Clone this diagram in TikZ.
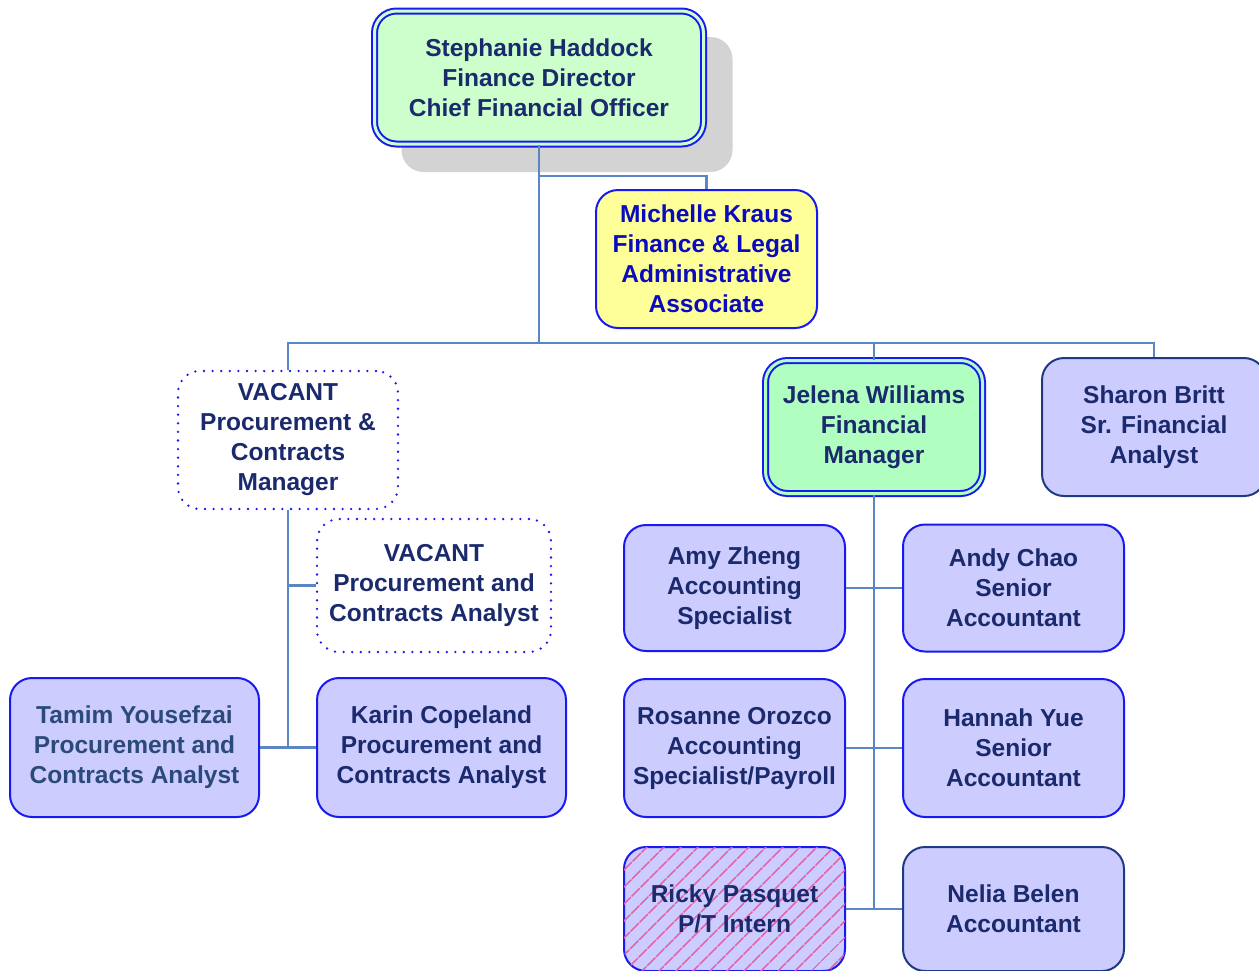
\documentclass[tikz,border=0pt]{standalone}
\usepackage{fontspec}
\setmainfont{Liberation Sans}
\usetikzlibrary{patterns.meta, backgrounds}

\definecolor{bordblue}{HTML}{1A1AF0}
\definecolor{bordnavy}{HTML}{1F3A80}
\definecolor{navytext}{HTML}{1A2A6C}
\definecolor{greytext}{HTML}{2B4A7A}
\definecolor{admtext}{HTML}{0A0AC0}
\definecolor{lav}{HTML}{CCCCFF}
\definecolor{ceogreen}{HTML}{CCFFCC}
\definecolor{fmgreen}{HTML}{B0FFC0}
\definecolor{admyellow}{HTML}{FFFF99}
\definecolor{linkblue}{HTML}{5A86C4}
\definecolor{shadowgray}{HTML}{D3D3D3}
\definecolor{hatchpink}{HTML}{E35FA8}

\tikzset{
  box/.style={rectangle, rounded corners=22pt, draw=bordblue, line width=2pt,
    fill=lav, text=navytext, align=center, inner sep=0pt,
    font=\bfseries\fontsize{24.5}{30}\selectfont},
  navybox/.style={box, draw=bordnavy},
  doublebox/.style={box, double distance=3pt},
  vacantbox/.style={box, fill=none, line width=2.6pt, line cap=round,
    dash pattern=on 0pt off 8.6pt},
  hatched/.style={postaction={pattern={Lines[angle=45, distance=13pt, line width=1.8pt]},
    pattern color=hatchpink}},
  link/.style={draw=linkblue, line width=2.3pt},
}

\begin{document}
\begin{tikzpicture}[x=1pt, y=-1pt]
\useasboundingbox (0,0) rectangle (1259,970);

% top level, with its drop shadow behind it
\node[doublebox, fill=ceogreen, double=ceogreen, minimum width=329pt, minimum height=133pt]
  (ceo) at (539,77.5) {Stephanie Haddock\\Finance Director\\Chief Financial Officer};
\begin{scope}[on background layer]
  \fill[shadowgray, rounded corners=22pt]
    ([shift={(28,27)}]ceo.north west) rectangle ([shift={(28,27)}]ceo.south east);
\end{scope}

\node[box, fill=admyellow, text=admtext, minimum width=221pt, minimum height=138pt]
  (adm) at (706.5,259) {Michelle Kraus\\Finance \& Legal\\Administrative\\Associate};

% second level
\node[vacantbox, minimum width=220pt, minimum height=138pt]
  (pcm) at (288,440) {VACANT\\Procurement \&\\Contracts\\Manager};
\node[doublebox, fill=fmgreen, double=fmgreen, minimum width=217pt, minimum height=133pt]
  (fm) at (874,427) {Jelena Williams\\Financial\\Manager};
\node[navybox, minimum width=224pt, minimum height=138pt]
  (sfa) at (1154,427) {Sharon Britt\\Sr. Financial\\Analyst};

% procurement team
\node[vacantbox, minimum width=234pt, minimum height=133pt]
  (pca) at (434,585.5) {VACANT\\Procurement and\\Contracts Analyst};
\node[box, text=greytext, minimum width=249pt, minimum height=139pt]
  (tam) at (134.5,747.5) {Tamim Yousefzai\\Procurement and\\Contracts Analyst};
\node[box, minimum width=249pt, minimum height=139pt]
  (kar) at (441.5,747.5) {Karin Copeland\\Procurement and\\Contracts Analyst};

% accounting team
\node[box, minimum width=221pt, minimum height=126pt]
  (amy) at (734.5,588) {Amy Zheng\\Accounting\\Specialist};
\node[box, minimum width=221pt, minimum height=127pt]
  (andy) at (1013.5,588) {Andy Chao\\Senior\\Accountant};
\node[box, minimum width=221pt, minimum height=138pt]
  (ros) at (734.5,748) {Rosanne Orozco\\Accounting\\Specialist/Payroll};
\node[box, minimum width=221pt, minimum height=138pt]
  (han) at (1013.5,748) {Hannah Yue\\Senior\\Accountant};
\node[box, hatched, minimum width=221pt, minimum height=124pt]
  (ricky) at (734.5,909) {Ricky Pasquet\\P/T Intern};
\node[navybox, minimum width=221pt, minimum height=124pt]
  (nel) at (1013.5,909) {Nelia Belen\\Accountant};

% connectors
\coordinate (admj) at (539,176);
\coordinate (busL) at (288,343);
\coordinate (busR) at (1154,343);
\draw[link] (ceo.south) -- (ceo.south |- busL);
\draw[link] (admj) -| (adm.north);
\draw[link] (pcm.north) -- (busL) -- (busR) -- (sfa.north);
\draw[link] (fm.north) -- (fm.north |- busL);

\draw[link] (pcm.south) -- (pcm.south |- tam.east);
\draw[link] (pcm.south |- pca.west) -- (pca.west);
\draw[link] (tam.east) -- (kar.west);

\draw[link] (fm.south) -- (fm.south |- ricky.east);
\draw[link] (amy.east) -- (andy.west);
\draw[link] (ros.east) -- (han.west);
\draw[link] (ricky.east) -- (nel.west);
\end{tikzpicture}
\end{document}
